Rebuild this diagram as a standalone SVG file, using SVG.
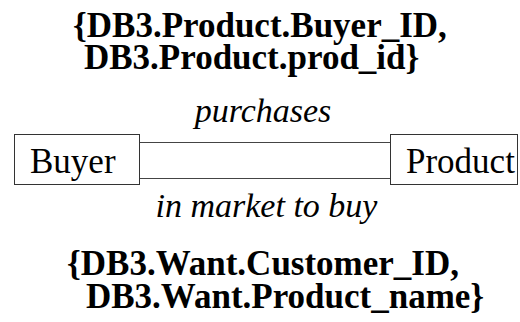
<svg xmlns="http://www.w3.org/2000/svg" width="520" height="322" viewBox="0 0 520 322">
<style>
.box{fill:#fff;stroke:#333;stroke-width:1}
.ln{stroke:#444;stroke-width:1;fill:none}
</style>
<rect width="520" height="322" fill="#fff"/>
<g id="connectors">
<line class="ln" x1="139.5" y1="142.5" x2="390.5" y2="142.5"/>
<line class="ln" x1="139.5" y1="178.5" x2="390.5" y2="178.5"/>
</g>
<g id="label-top">
<text font-family="Liberation Serif" font-weight="bold" font-size="35" x="73" y="37">{DB3.Product.Buyer_ID,</text>
<text font-family="Liberation Serif" font-weight="bold" font-size="35" x="84" y="69">DB3.Product.prod_id}</text>
</g>
<g id="label-purchases"><text font-family="Liberation Serif" font-style="italic" font-size="34" x="263" y="122" text-anchor="middle">purchases</text></g>
<g id="label-market"><text font-family="Liberation Serif" font-style="italic" font-size="34" x="266.5" y="217" text-anchor="middle">in market to buy</text></g>
<g id="label-bottom">
<text font-family="Liberation Serif" font-weight="bold" font-size="35" x="67" y="275">{DB3.Want.Customer_ID,</text>
<text font-family="Liberation Serif" font-weight="bold" font-size="35" x="86" y="308">DB3.Want.Product_name}</text>
</g>
<g id="node-buyer">
<rect class="box" x="14.5" y="134.5" width="125" height="50"/>
<text font-family="Liberation Serif" font-size="35" x="30" y="173">Buyer</text>
</g>
<g id="node-product">
<rect class="box" x="390.5" y="134.5" width="127" height="50"/>
<text font-family="Liberation Serif" font-size="35" x="406" y="173">Product</text>
</g>
</svg>
